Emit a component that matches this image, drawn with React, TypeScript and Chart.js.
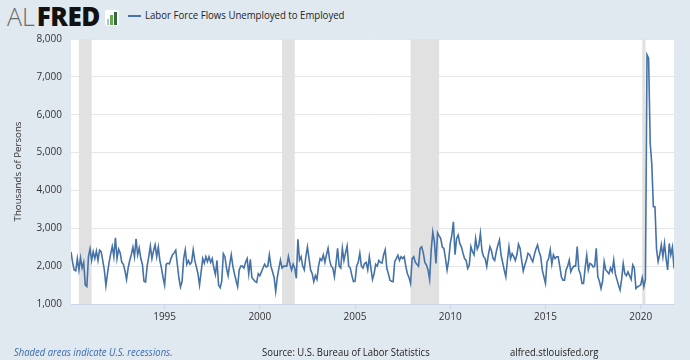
import React, { useEffect, useRef } from "react";
import { Chart, registerables } from "chart.js";

Chart.register(...registerables);

const seriesLabel = "Labor Force Flows Unemployed to Employed";
const yAxisTitle = "Thousands of Persons";
const startYear = 1990;
const startMonth = 2; // February 1990

// Monthly values, thousands of persons
const values1990 = [2380, 2100, 1900, 1880, 2200, 1900, 2220, 1950, 2100, 1500, 1460];
const values1991to1994 = [
  2250, 2460, 2150, 2380, 2200, 2400, 2150, 2420, 2380, 2150, 1900, 1480,
  1800, 2100, 2320, 2520, 2250, 2750, 2200, 2450, 2350, 2100, 2050, 1880,
  1650, 1950, 2150, 2300, 2500, 2250, 2720, 2300, 2480, 2200, 2050, 1600,
  1580, 2000, 2250, 2530, 2200, 2400, 2560, 2250, 2500, 2150, 1950, 1700,
];
const values1995to1999 = [
  1500, 2050, 2080, 2060, 2200, 2300, 2350, 2420, 2050, 1680, 1450, 1600,
  2200, 2430, 2050, 2150, 2050, 2100, 2430, 2150, 1980, 1800, 1500, 1850,
  2200, 2080, 2250, 2120, 2250, 2100, 2200, 1950, 1780, 2150, 1500, 1430,
  1600, 2330, 2250, 1950, 1750, 2050, 2300, 2000, 1800, 1620, 1460, 1900,
  2000, 2000, 1950, 2100, 2200, 1800, 2180, 1700, 1650, 1600, 1570, 1800,
];
const values2000to2004 = [
  1750, 1850, 1950, 2050, 1980, 2000, 2300, 2000, 1850, 1700, 1330, 1700,
  1940, 2160, 1950, 2000, 2000, 2000, 2250, 2050, 1900, 2050, 1950, 1680,
  2710, 2160, 2250, 2000, 1900, 2250, 2510, 2200, 1900, 1800, 1590, 1750,
  1650, 2000, 2200, 2150, 2300, 2100, 2300, 2470, 2150, 2000, 1950, 1720,
  2070, 2470, 2000, 1950, 2470, 2150, 2350, 2530, 2000, 1950, 1750, 1590,
];
const values2005to2009 = [
  1600, 2000, 2100, 2340, 2000, 1950, 2070, 2100, 1900, 2250, 1950, 1650,
  1800, 2050, 2000, 2150, 2100, 2080, 2300, 2430, 1950, 1800, 1630, 1600,
  1590, 2120, 2200, 2290, 2150, 2250, 2200, 2250, 1990, 1800, 1700, 1545,
  2200, 2250, 2100, 2050, 2000, 2470, 2510, 2350, 2100, 2030, 1900, 1650,
  2430, 2900, 2650, 2070, 2880, 2800, 2730, 2500, 2470, 2200, 1900, 2150,
];
const values2010to2014 = [
  2600, 2820, 3170, 2300, 2730, 2820, 2600, 2510, 2350, 2200, 2150, 1940,
  2030, 2515, 2380, 2300, 2730, 2450, 2550, 2870, 2400, 2250, 2200, 1990,
  2300, 2515, 2400, 2200, 2150, 2380, 2550, 2690, 2300, 2100, 1900, 1720,
  2150, 2515, 2200, 2330, 2250, 2150, 2300, 2580, 2470, 2150, 1870, 2030,
  2160, 2340, 2300, 2200, 2120, 2300, 2450, 2560, 2380, 2250, 1900, 1720,
];
const values2015to2019 = [
  1545, 2120, 2200, 2430, 2050, 2300, 2200, 2250, 2250, 2000, 1720, 1630,
  1630, 1900, 2000, 2160, 1850, 1950, 2000, 2000, 2515, 1900, 1800, 1545,
  1545, 1950, 2290, 1900, 2070, 2050, 1980, 2000, 2470, 1720, 1600, 1410,
  1600, 2120, 1900, 1850, 1800, 1950, 1850, 2160, 1800, 1650, 1500, 1370,
  1650, 2070, 1800, 1750, 1850, 1750, 1650, 2030, 1950, 1410, 1450, 1480,
];
const values2020to2021 = [
  1500, 1700, 1460, 1650, 7580, 7490, 5250, 4700, 3570, 3570, 2450, 2120,
  2300, 2560, 2250, 2600, 2200, 1900, 2600, 2300, 2500, 1940,
];

const xTickYears = [1995, 2000, 2005, 2010, 2015, 2020];
const yMin = 1000;
const yMax = 8000;
const yStep = 1000;

// Recessions (decimal years, start / end)
const recessionStarts = [1990.5, 2001.1667, 2007.9167, 2020.0833];
const recessionEnds = [1991.1667, 2001.8333, 2009.4167, 2020.25];

const allValues = [
  ...values1990,
  ...values1991to1994,
  ...values1995to1999,
  ...values2000to2004,
  ...values2005to2009,
  ...values2010to2014,
  ...values2015to2019,
  ...values2020to2021,
];

const points = allValues.map((v, i) => ({
  x: startYear + (startMonth - 1 + i) / 12,
  y: v,
}));

const FONT = "'Open Sans', 'DejaVu Sans', sans-serif";

const plotBgPlugin = {
  id: "plotBg",
  beforeDraw(chart: any) {
    const { ctx, chartArea } = chart;
    ctx.save();
    ctx.fillStyle = "#ffffff";
    ctx.fillRect(chartArea.left, chartArea.top, chartArea.right - chartArea.left, chartArea.bottom - chartArea.top);
    ctx.restore();
  },
  beforeDatasetsDraw(chart: any) {
    const { ctx, chartArea } = chart;
    const xs = chart.scales.x;
    ctx.save();
    ctx.fillStyle = "#e1e1e1";
    recessionStarts.forEach((s, i) => {
      const x0 = xs.getPixelForValue(s);
      const x1 = xs.getPixelForValue(recessionEnds[i]);
      ctx.fillRect(x0, chartArea.top, x1 - x0, chartArea.bottom - chartArea.top);
    });
    ctx.restore();
  },
};

const condensed: React.CSSProperties = {
  position: "absolute",
  whiteSpace: "nowrap",
  transform: "scaleX(0.86)",
  transformOrigin: "0 50%",
};

function App() {
  const canvasRef = useRef<HTMLCanvasElement | null>(null);

  useEffect(() => {
    document.body.style.margin = "0";
    const canvas = canvasRef.current;
    if (!canvas) return;
    const chart = new Chart(canvas, {
      type: "line",
      data: {
        datasets: [
          {
            label: seriesLabel,
            data: points,
            borderColor: "#4572a7",
            borderWidth: 1.6,
            pointRadius: 0,
            fill: false,
            tension: 0,
          },
        ],
      },
      options: {
        animation: false,
        responsive: false,
        maintainAspectRatio: false,
        layout: { padding: { top: 39, right: 16, bottom: 31, left: 0 } },
        plugins: {
          legend: { display: false },
          tooltip: { enabled: false },
          title: { display: false },
        },
        scales: {
          x: {
            type: "linear",
            min: points[0].x,
            max: points[points.length - 1].x,
            afterBuildTicks: (scale: any) => {
              scale.ticks = xTickYears.map((v) => ({ value: v }));
            },
            afterFit: (scale: any) => {
              scale.height = 25;
            },
            grid: {
              drawOnChartArea: false,
              drawTicks: true,
              tickLength: 5,
              color: "#ccd6eb",
            },
            border: { display: true, color: "#ccd6eb", width: 1 },
            ticks: {
              autoSkip: false,
              maxRotation: 0,
              padding: 2,
              color: "#333333",
              font: { family: FONT, size: 10 },
              callback: (v: any) => String(v),
            },
          },
          y: {
            min: yMin,
            max: yMax,
            afterFit: (scale: any) => {
              scale.width = 71;
            },
            ticks: {
              stepSize: yStep,
              padding: 9,
              color: "#333333",
              font: { family: FONT, size: 10 },
              callback: (v: any) => Number(v).toLocaleString("en-US"),
            },
            grid: { color: "#e6e6e6", drawTicks: false },
            border: { display: false },
            title: {
              display: true,
              text: yAxisTitle,
              color: "#333333",
              font: { family: FONT, size: 9.7 },
              padding: { top: 12, bottom: 0 },
            },
          },
        },
      },
      plugins: [plotBgPlugin],
    });
    return () => chart.destroy();
  }, []);

  return (
    <div
      style={{
        position: "fixed",
        left: 0,
        top: 0,
        width: 690,
        height: 360,
        background: "#e1e9f0",
        fontFamily: FONT,
        overflow: "hidden",
      }}
    >
      <div style={{ position: "absolute", left: 7, top: 1, height: 30, display: "flex", alignItems: "center" }}>
        <span style={{ fontSize: 25, fontWeight: 300, color: "#6b6b6b", letterSpacing: 0 }}>AL</span>
        <span style={{ fontSize: 26, fontWeight: 800, color: "#111111", letterSpacing: -0.5, marginLeft: 2 }}>FRED</span>
        <span
          style={{
            display: "inline-flex",
            alignItems: "flex-end",
            gap: 1,
            width: 14,
            height: 16,
            background: "#ffffff",
            marginLeft: 5,
            marginTop: 4,
            padding: "0 2px 1px 2px",
            boxSizing: "border-box",
            borderRadius: 2,
          }}
        >
          <span style={{ width: 3, height: 6, background: "#a9c3db" }} />
          <span style={{ width: 3, height: 10, background: "#6aa84f" }} />
          <span style={{ width: 3, height: 13, background: "#2f6d3a" }} />
        </span>
      </div>
      <div style={{ position: "absolute", left: 128, top: 15, width: 13, height: 2, background: "#4572a7" }} />
      <div style={{ ...condensed, left: 145, top: 7, fontSize: 11.2, color: "#222" }}>{seriesLabel}</div>
      <canvas ref={canvasRef} width={690} height={360} style={{ position: "absolute", left: 0, top: 0 }} />
      <div style={{ ...condensed, left: 14, top: 344, fontSize: 11, fontStyle: "italic", color: "#3a6bb0" }}>
        Shaded areas indicate U.S. recessions.
      </div>
      <div style={{ ...condensed, left: 262, top: 344, fontSize: 11, color: "#222" }}>
        Source: U.S. Bureau of Labor Statistics
      </div>
      <div style={{ ...condensed, left: 510, top: 344, fontSize: 11, color: "#222" }}>
        alfred.stlouisfed.org
      </div>
    </div>
  );
}

export default App;
